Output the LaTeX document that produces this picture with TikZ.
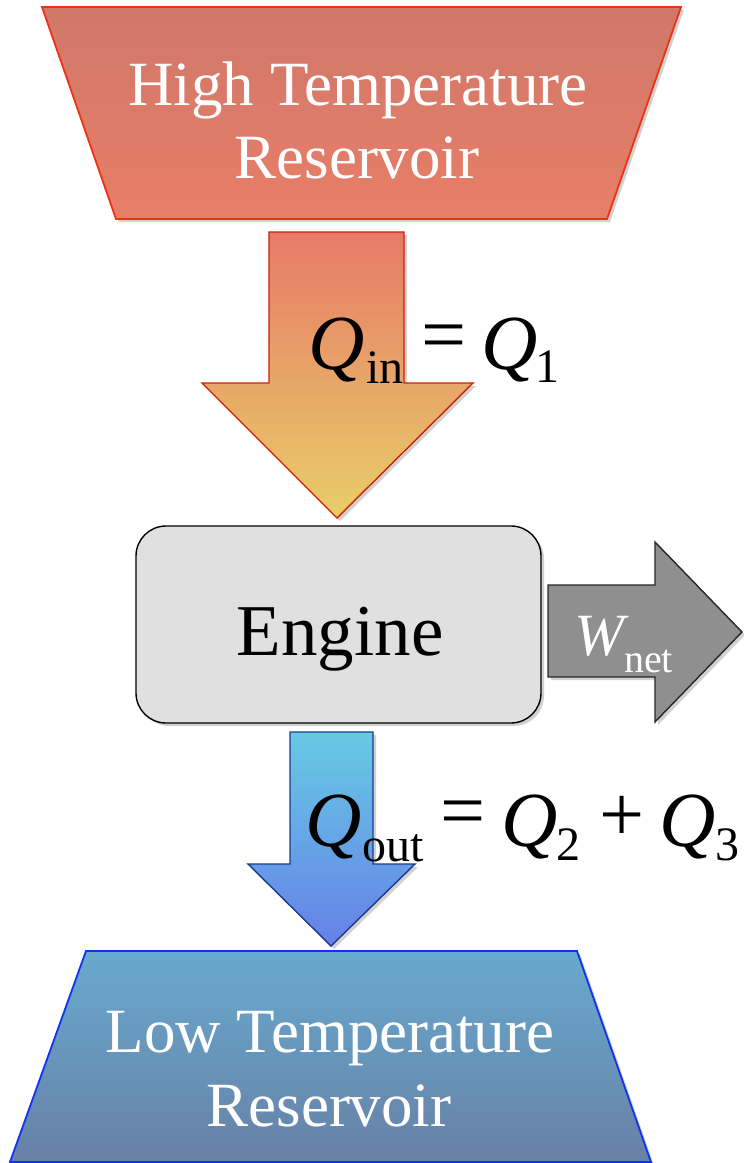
\documentclass[tikz,border=0pt]{standalone}
\usepackage{fontspec}
\setmainfont{Liberation Serif}
\newcommand\myfs[1]{\fontsize{#1}{#1}\selectfont}
\definecolor{hotTop}{RGB}{208,120,106}
\definecolor{hotBot}{RGB}{232,126,104}
\definecolor{hotLine}{RGB}{238,51,17}
\definecolor{harTop}{RGB}{232,122,104}
\definecolor{harBot}{RGB}{232,206,104}
\definecolor{harLine}{RGB}{204,34,0}
\definecolor{engFill}{RGB}{224,224,224}
\definecolor{wFill}{RGB}{143,143,143}
\definecolor{carTop}{RGB}{102,202,228}
\definecolor{carBot}{RGB}{102,128,232}
\definecolor{carLine}{RGB}{26,58,138}
\definecolor{coldTop}{RGB}{104,170,206}
\definecolor{coldBot}{RGB}{104,128,166}
\definecolor{coldLine}{RGB}{17,51,238}
\begin{document}
\begin{tikzpicture}[x=1pt,y=-1pt,
  shadowed/.style={preaction={fill=black,opacity=0.18,transform canvas={shift={(3pt,-3pt)}}}},
  hotres/.style={shadowed,draw=hotLine,line width=1.8pt,top color=hotTop,bottom color=hotBot,line join=miter},
  hotarrow/.style={shadowed,draw=harLine,line width=1.4pt,top color=harTop,bottom color=harBot},
  engbox/.style={shadowed,draw=black,line width=1.4pt,fill=engFill,rounded corners=30pt},
  warrow/.style={shadowed,draw=black!85,line width=1.4pt,fill=wFill},
  coldarrow/.style={shadowed,draw=carLine,line width=1.4pt,top color=carTop,bottom color=carBot},
  coldres/.style={shadowed,draw=coldLine,line width=1.8pt,top color=coldTop,bottom color=coldBot},
  restxt/.style={inner sep=0pt,anchor=base,text=white,font=\myfs{63}},
  engtxt/.style={inner sep=0pt,anchor=base,text=black,font=\myfs{73}},
  bigsym/.style={inner sep=0pt,anchor=base west,font=\myfs{78}\itshape},
  subsym/.style={inner sep=0pt,anchor=base west,font=\myfs{48}},
  relsym/.style={inner sep=0pt,anchor=base,font=\myfs{80}},
  wsym/.style={inner sep=0pt,anchor=base west,text=white,font=\myfs{60}\itshape},
  wsub/.style={inner sep=0pt,anchor=base west,text=white,font=\myfs{40}}
]
\useasboundingbox (0,0) rectangle (744,1163);

% High temperature reservoir
\path[hotres] (42,7) -- (681,7) -- (607,219) -- (116,219) -- cycle;
\node[restxt] (hot1) at (358,105) {High Temperature};
\node[restxt] (hot2) at (357,178) {Reservoir};

% Q_in arrow
\path[hotarrow] (269,232) -- (404,232) -- (404,383) -- (473,383) -- (337,518)
  -- (202,383) -- (269,383) -- cycle;

% Engine
\path[engbox] (136,526) rectangle (541,723);
\node[engtxt] (eng) at (340,655) {Engine};

% W_net arrow
\path[warrow] (548,585) -- (655,585) -- (655,542) -- (742,632) -- (655,722)
  -- (655,677) -- (548,677) -- cycle;
\node[wsym] (wW) at (574,655) {W};
\node[wsub] (wnet) at (624,672) {net};

% Q_out arrow
\path[coldarrow] (290,732) -- (373,732) -- (373,864) -- (415,864) -- (331,946)
  -- (248,864) -- (290,864) -- cycle;

% Low temperature reservoir
\path[coldres] (86,951) -- (577,951) -- (651,1162) -- (10,1162) -- cycle;
\node[restxt] (cold1) at (330,1052) {Low Temperature};
\node[restxt] (cold2) at (329,1126) {Reservoir};

% Q_in = Q_1
\node[bigsym] (qinQ) at (308,369) {Q};
\node[subsym] (qinSub) at (366,383) {in};
\node[relsym] (qinEq) at (444,361) {=};
\node[bigsym] (qinQb) at (481,369) {Q};
\node[subsym] (qinOne) at (535,382) {1};

% Q_out = Q_2 + Q_3
\node[bigsym] (qoutQ) at (305,846) {Q};
\node[subsym] (qoutSub) at (362,861) {out};
\node[relsym] (qoutEq) at (463,837) {=};
\node[bigsym] (qoutQb) at (501,846) {Q};
\node[subsym] (qoutTwo) at (556,860) {2};
\node[relsym] (qoutPlus) at (622,841) {+};
\node[bigsym] (qoutQc) at (659,846) {Q};
\node[subsym] (qoutThree) at (715,860) {3};
\end{tikzpicture}
\end{document}
